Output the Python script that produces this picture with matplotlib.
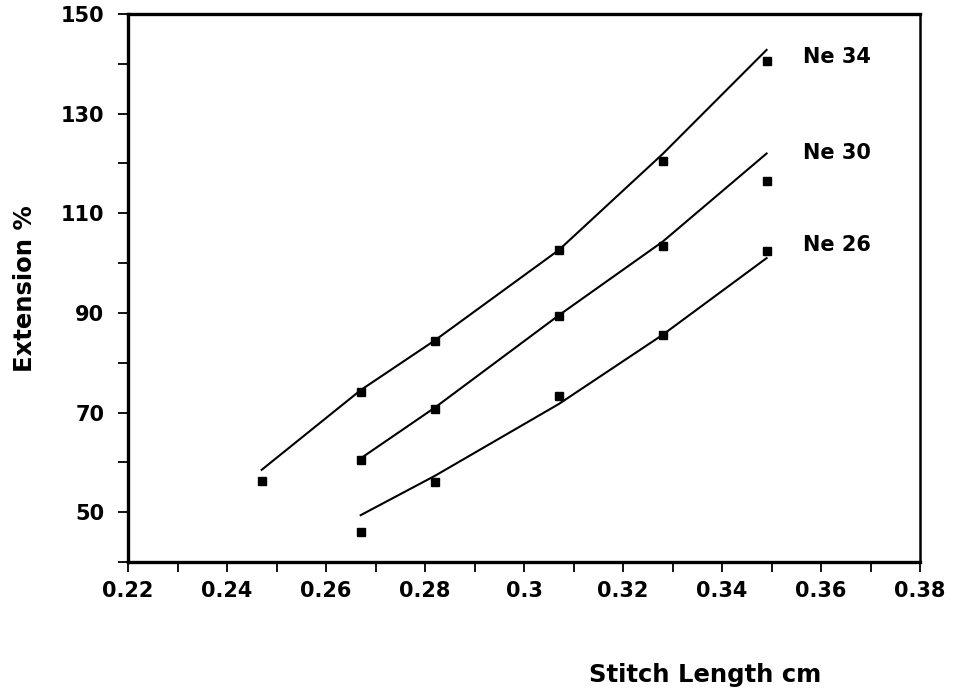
import matplotlib
matplotlib.use("Agg")
import matplotlib.pyplot as plt
from matplotlib.ticker import MultipleLocator, FixedLocator, FixedFormatter

plt.rcParams['font.family'] = ['DejaVu Sans']

# Data
x_ne34 = [0.247, 0.267, 0.282, 0.307, 0.328, 0.349]
y_ne34 = [56.3, 74.1, 84.3, 102.6, 120.5, 140.6]
fit_ne34 = [58.5, 74.5, 84.5, 102.6, 121.9, 142.8]

x_ne30 = [0.267, 0.282, 0.307, 0.328, 0.349]
y_ne30 = [60.4, 70.7, 89.4, 103.4, 116.5]
fit_ne30 = [60.8, 71.0, 89.5, 104.3, 122.0]

x_ne26 = [0.267, 0.282, 0.307, 0.328, 0.349]
y_ne26 = [46.1, 56.0, 73.3, 85.6, 102.5]
fit_ne26 = [49.4, 57.3, 71.7, 85.6, 101.0]

series_labels = ["Ne 34", "Ne 30", "Ne 26"]
label_pos_y = [141.4, 122.1, 103.6]

x_ticks = [0.22, 0.24, 0.26, 0.28, 0.30, 0.32, 0.34, 0.36, 0.38]
x_tick_labels = ["0.22", "0.24", "0.26", "0.28", "0.3", "0.32", "0.34", "0.36", "0.38"]
y_ticks = [50, 70, 90, 110, 130, 150]
y_tick_labels = ["50", "70", "90", "110", "130", "150"]

fig = plt.figure(figsize=(9.54, 6.91), dpi=100)
ax = fig.add_axes([0.1342, 0.1867, 0.8302, 0.793])

series = [(x_ne34, y_ne34, fit_ne34), (x_ne30, y_ne30, fit_ne30), (x_ne26, y_ne26, fit_ne26)]
for (xs, ys, fs), lab, ly in zip(series, series_labels, label_pos_y):
    ax.plot(xs, fs, color='black', lw=1.5, zorder=2)
    ax.plot(xs, ys, ls='none', marker='s', ms=6.2, color='black', zorder=3)
    ax.text(0.3564, ly, lab, fontsize=15, fontweight='bold', va='center', ha='left')

ax.set_xlim(0.22, 0.38)
ax.set_ylim(40, 150)

ax.xaxis.set_major_locator(FixedLocator(x_ticks))
ax.xaxis.set_major_formatter(FixedFormatter(x_tick_labels))
ax.xaxis.set_minor_locator(MultipleLocator(0.01))
ax.yaxis.set_major_locator(FixedLocator(y_ticks))
ax.yaxis.set_major_formatter(FixedFormatter(y_tick_labels))
ax.yaxis.set_minor_locator(FixedLocator([40, 60, 80, 100, 120, 140]))

ax.tick_params(axis='both', which='both', direction='out', length=7, width=1.3, color='black')
ax.tick_params(axis='x', which='major', labelsize=15, pad=7)
ax.tick_params(axis='y', which='major', labelsize=15, pad=10)
for lbl in ax.get_xticklabels() + ax.get_yticklabels():
    lbl.set_fontweight('bold')

for side in ['left', 'bottom', 'top']:
    ax.spines[side].set_linewidth(2.4)
ax.spines['right'].set_linewidth(1.8)

fig.text(25 / 954, 1 - 289 / 691, "Extension %", rotation=90, fontsize=17.5,
         fontweight='bold', ha='center', va='center')
fig.text(705 / 954, 1 - 675 / 691, "Stitch Length cm", fontsize=17.5,
         fontweight='bold', ha='center', va='center')

fig.savefig("out.png", dpi=100)
